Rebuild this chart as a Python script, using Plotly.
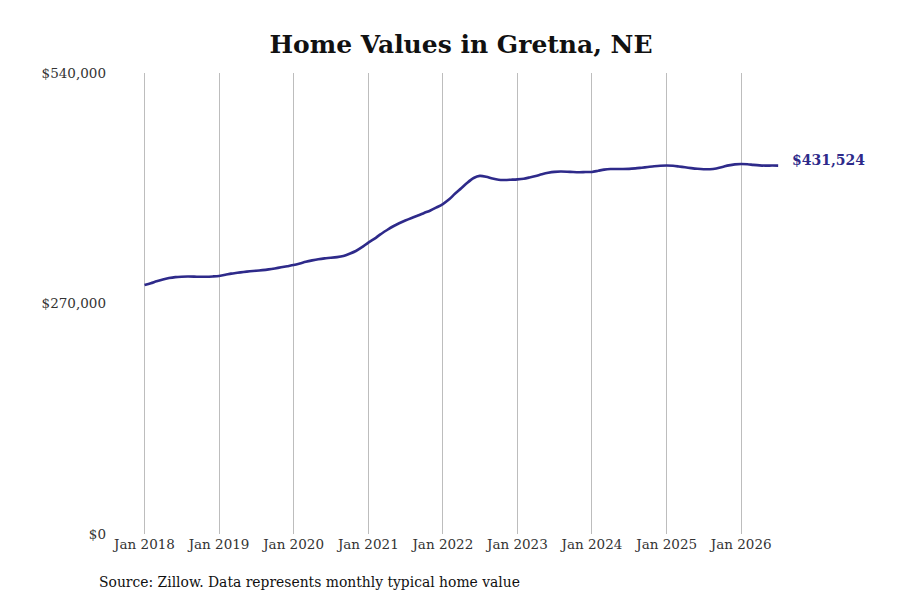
import plotly.graph_objects as go
import pandas as pd

months = pd.date_range("2018-01-01", "2026-07-01", freq="MS")
values = [
    # 2018
    291700, 293800, 296000, 298200, 299800, 300900, 301400, 301600, 301500, 301300, 301300, 301700,
    # 2019
    302300, 303600, 305000, 306000, 306900, 307700, 308400, 309100, 310000, 311100, 312400, 313700,
    # 2020
    315100, 316900, 318800, 320500, 321900, 322900, 323500, 324300, 325700, 328300, 331500, 336000,
    # 2021
    341400, 346000, 351000, 355800, 360200, 364000, 367200, 370200, 373000, 376000, 379000, 382500,
    # 2022
    386500, 392000, 398500, 405000, 411500, 417000, 419500, 418500, 416300, 414900, 414700, 415000,
    # 2023
    415400, 416200, 417600, 419400, 421400, 423100, 424200, 424600, 424400, 424000, 423800, 424000,
    # 2024
    424100, 425500, 426800, 427500, 427600, 427500, 427700, 428300, 429100, 429900, 430700, 431300,
    # 2025
    431600, 431300, 430500, 429500, 428600, 427800, 427300, 427300, 428200, 429900, 431800, 433000,
    # 2026
    433400, 433100, 432400, 431800, 431500, 431600, 431524,
]
x_ticks = [f"{y}-01-01" for y in range(2018, 2027)]
x_tick_labels = [f"Jan {y}" for y in range(2018, 2027)]
y_ticks = [0, 270000, 540000]
y_tick_labels = ["$0", "$270,000", "$540,000"]
title = "Home Values in Gretna, NE"
source = "Source: Zillow. Data represents monthly typical home value"
line_color = "#2e2a8a"

L, R, T, B = 102, 118, 65, 74
plot_w = 900 - L - R
plot_h = 600 - T - B

fig = go.Figure()
fig.add_trace(go.Scatter(
    x=months, y=values, mode="lines",
    line=dict(color=line_color, width=2.6, shape="spline", smoothing=0.8),
    hoverinfo="skip", showlegend=False,
))
fig.add_annotation(
    x=months[-1], y=values[-1], xref="x", yref="y",
    text=f"<b>${values[-1]:,}</b>", showarrow=False,
    xanchor="left", xshift=12, yshift=6,
    font=dict(family="DejaVu Serif", size=14, color=line_color),
)
fig.add_annotation(
    x=(89 - L) / plot_w, y=-48 / plot_h, xref="paper", yref="paper",
    text=source, showarrow=False, xanchor="left", yanchor="middle",
    font=dict(family="DejaVu Serif", size=13.9, color="#111111"),
)
fig.update_layout(
    width=900, height=600,
    margin=dict(l=L, r=R, t=T, b=B),
    paper_bgcolor="white", plot_bgcolor="white",
    title=dict(text=f"<b>{title}</b>", x=453 / 900, xanchor="center",
               y=1 - 36 / 600, yanchor="middle",
               font=dict(family="DejaVu Serif", size=25, color="#111111")),
    xaxis=dict(
        range=["2017-07-16", "2026-08-28"],
        tickvals=x_ticks, ticktext=x_tick_labels,
        showgrid=True, gridcolor="#bdbdbd", gridwidth=1,
        zeroline=False, showline=False, ticks="",
        tickfont=dict(family="DejaVu Serif", size=13.5, color="#333333"),
    ),
    yaxis=dict(
        range=[0, 540000],
        tickvals=y_ticks, ticktext=y_tick_labels,
        showgrid=False, zeroline=False, showline=False, ticks="",
        tickfont=dict(family="DejaVu Serif", size=13.5, color="#333333"),
        ticklabelstandoff=3,
    ),
)
fig.write_html("out.html")
